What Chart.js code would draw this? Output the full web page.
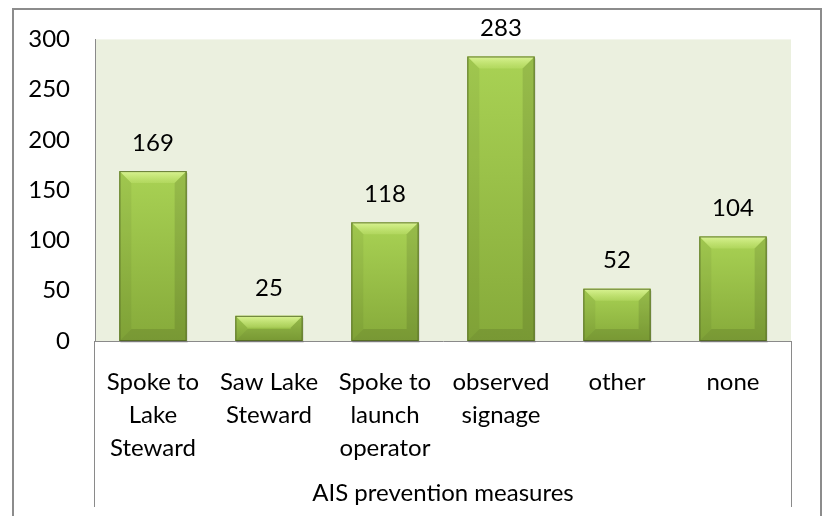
<!DOCTYPE html>
<html>
<head>
<meta charset="utf-8">
<script src="https://cdn.jsdelivr.net/npm/chart.js@4"></script>
<style>
  html, body { margin: 0; padding: 0; background: #fff; overflow: hidden; }
  #wrap { position: relative; width: 825px; height: 516px; }
  #frame {
    position: absolute; left: 12px; top: 8px; width: 806px; height: 600px;
    border: 2px solid #8c8c8c; pointer-events: none;
  }
</style>
</head>
<body>
<div id="wrap">
  <canvas id="myChart" width="825" height="516"></canvas>
  <div id="frame"></div>
</div>
<script>
const categories = [
  ["Spoke to", "Lake", "Steward"],
  ["Saw Lake", "Steward"],
  ["Spoke to", "launch", "operator"],
  ["observed", "signage"],
  ["other"],
  ["none"],
];
const values = [169, 25, 118, 283, 52, 104];
const groupLabel = "AIS prevention measures";
const yTicks = [0, 50, 100, 150, 200, 250, 300];

const axisGray = "#8a8a8a";
const fontFamily = "Lato, 'Open Sans', sans-serif";

// light olive plot area
const plotBackground = {
  id: "plotBackground",
  beforeDraw(chart) {
    const { ctx, chartArea: a } = chart;
    ctx.save();
    ctx.fillStyle = "#ebf0df";
    ctx.fillRect(a.left, a.top, a.right - a.left, a.bottom - a.top);
    ctx.restore();
  },
};

// soft bevel + gradient on each bar, using the bar elements' own geometry
const bevel = {
  id: "bevel",
  afterDatasetsDraw(chart) {
    const { ctx } = chart;
    chart.getDatasetMeta(0).data.forEach((bar) => {
      const x0 = bar.x - bar.width / 2;
      const x1 = bar.x + bar.width / 2;
      const y0 = bar.y;
      const y1 = bar.base;
      const b = Math.min(12, (y1 - y0) / 2, bar.width / 2);
      const poly = (pts, fill) => {
        ctx.beginPath();
        ctx.moveTo(pts[0][0], pts[0][1]);
        pts.slice(1).forEach((p) => ctx.lineTo(p[0], p[1]));
        ctx.closePath();
        ctx.fillStyle = fill;
        ctx.fill();
      };
      ctx.save();
      // faint drop shadow
      ctx.fillStyle = "rgba(0,0,0,0.12)";
      ctx.fillRect(x0 + 1, y0 + 2, bar.width, y1 - y0);
      // face
      const face = ctx.createLinearGradient(0, y0, 0, y1);
      face.addColorStop(0, "#a9d254");
      face.addColorStop(1, "#86aa3a");
      ctx.fillStyle = face;
      ctx.fillRect(x0, y0, bar.width, y1 - y0);
      const top = ctx.createLinearGradient(0, y0, 0, y0 + b);
      top.addColorStop(0, "rgba(235,255,170,0.75)");
      top.addColorStop(1, "rgba(210,240,130,0.25)");
      poly([[x0, y0], [x1, y0], [x1 - b, y0 + b], [x0 + b, y0 + b]], top);
      poly([[x0, y0], [x0 + b, y0 + b], [x0 + b, y1 - b], [x0, y1]], "rgba(0,0,0,0.05)");
      poly([[x1, y0], [x1 - b, y0 + b], [x1 - b, y1 - b], [x1, y1]], "rgba(0,0,0,0.10)");
      poly([[x0, y1], [x0 + b, y1 - b], [x1 - b, y1 - b], [x1, y1]], "rgba(0,0,0,0.10)");
      ctx.strokeStyle = "rgba(80,100,35,0.85)";
      ctx.lineWidth = 1;
      ctx.strokeRect(x0 + 0.5, y0 + 0.5, bar.width - 1, y1 - y0 - 1);
      ctx.restore();
    });
  },
};

// values above bars
const dataLabels = {
  id: "dataLabels",
  afterDatasetsDraw(chart) {
    const { ctx } = chart;
    const ds = chart.data.datasets[0];
    ctx.save();
    ctx.font = "24px " + fontFamily;
    ctx.fillStyle = "#000";
    ctx.textAlign = "center";
    ctx.textBaseline = "middle";
    chart.getDatasetMeta(0).data.forEach((bar, i) => {
      ctx.fillText(ds.data[i], bar.x, bar.y - 28);
    });
    ctx.restore();
  },
};

// outer dividers of the category group
const groupLines = {
  id: "groupLines",
  afterDraw(chart) {
    const { ctx, chartArea: a } = chart;
    ctx.save();
    ctx.strokeStyle = axisGray;
    ctx.lineWidth = 1;
    ctx.beginPath();
    ctx.moveTo(Math.round(a.left) - 0.5, a.bottom);
    ctx.lineTo(Math.round(a.left) - 0.5, 507);
    ctx.moveTo(Math.round(a.right) + 0.5, a.bottom);
    ctx.lineTo(Math.round(a.right) + 0.5, 507);
    ctx.stroke();
    ctx.restore();
  },
};

new Chart("myChart", {
  type: "bar",
  data: {
    labels: categories,
    datasets: [
      {
        data: values,
        backgroundColor: "#a3cb50",
        borderWidth: 0,
        barPercentage: 0.58,
        categoryPercentage: 1,
      },
    ],
  },
  options: {
    responsive: false,
    animation: false,
    layout: { padding: { left: 0, top: 39, right: 34, bottom: 0 } },
    plugins: {
      legend: { display: false },
      tooltip: { enabled: false },
    },
    scales: {
      x: {
        grid: { display: false },
        border: { display: true, color: axisGray },
        ticks: {
          color: "#000",
          padding: 17,
          maxRotation: 0,
          autoSkip: false,
          font: { family: fontFamily, size: 24, lineHeight: 1.375 },
        },
        title: {
          display: true,
          text: groupLabel,
          color: "#000",
          padding: { top: 0, bottom: 8 },
          font: { family: fontFamily, size: 24, lineHeight: 1.2 },
        },
        afterFit(scale) {
          scale.height = 175;
        },
      },
      y: {
        min: 0,
        max: 300,
        grid: { display: false, drawTicks: false },
        border: { display: true, color: axisGray },
        afterBuildTicks(scale) {
          scale.ticks = yTicks.map((v) => ({ value: v }));
        },
        ticks: {
          color: "#000",
          padding: 25,
          font: { family: fontFamily, size: 24 },
        },
        afterFit(scale) {
          scale.width = 95;
        },
      },
    },
  },
  plugins: [plotBackground, bevel, dataLabels, groupLines],
});
</script>
</body>
</html>
